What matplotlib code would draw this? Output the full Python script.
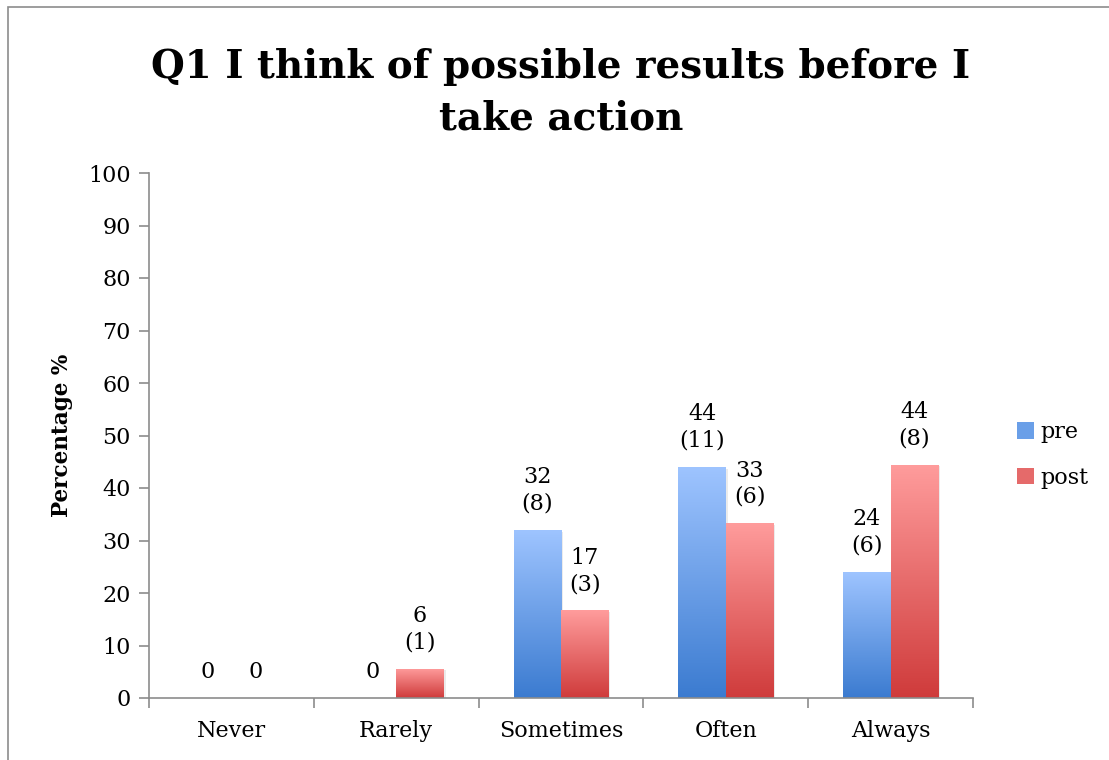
import numpy as np
import matplotlib
matplotlib.use("Agg")
import matplotlib.pyplot as plt
from matplotlib.colors import LinearSegmentedColormap
from matplotlib.patches import Rectangle, Patch

categories = ["Never", "Rarely", "Sometimes", "Often", "Always"]
pre_values = [0, 0, 32, 44, 24]
post_values = [0, 5.6, 16.7, 33.3, 44.4]
pre_labels = ["0", "0", "32\n(8)", "44\n(11)", "24\n(6)"]
post_labels = ["0", "6\n(1)", "17\n(3)", "33\n(6)", "44\n(8)"]
series_names = ["pre", "post"]
title_lines = ["Q1 I think of possible results before I", "take action"]

plt.rcParams["font.family"] = ["DejaVu Serif"]

W, H = 1109, 760
fig = plt.figure(figsize=(W / 100, H / 100), dpi=100)
ax = fig.add_axes([149 / W, 1 - 698 / H, (973 - 149) / W, (698 - 173) / H])

# outer chart border
fig.patches.append(Rectangle((8 / W, -0.01), 1.1, 1 - 7 / H + 0.01,
                             transform=fig.transFigure, fill=False,
                             edgecolor="#8c8c8c", lw=1.2))

blue = LinearSegmentedColormap.from_list("b", ["#3b7bd0", "#9ec4ff"])
red = LinearSegmentedColormap.from_list("r", ["#cf3b3b", "#ff9c9c"])
grad = np.linspace(0, 1, 256).reshape(-1, 1)

x = np.arange(len(categories))
bw = 0.288
for vals, labs, off, cmap in [(pre_values, pre_labels, -bw / 2, blue),
                              (post_values, post_labels, bw / 2, red)]:
    bars = ax.bar(x + off, vals, width=bw, color="none", edgecolor="none")
    for b, v, lab in zip(bars, vals, labs):
        if v > 0:
            bx = b.get_x()
            # soft shadow
            ax.add_patch(Rectangle((bx + 0.012, 0), bw, v - 0.3,
                                   facecolor="#000000", alpha=0.08,
                                   edgecolor="none", zorder=1))
            im = ax.imshow(grad, cmap=cmap, aspect="auto", origin="lower",
                           extent=[bx, bx + bw, 0, v], zorder=2)
            im.set_clip_path(b)
        ax.annotate(lab, (b.get_x() + bw / 2, v), xytext=(0, 11),
                    textcoords="offset points", ha="center", va="bottom",
                    fontsize=16, linespacing=1.25)

ax.set_xlim(-0.5, len(categories) - 0.5)
ax.set_ylim(0, 100)
ax.set_yticks(range(0, 101, 10))
ax.set_xticks(x)
ax.set_xticklabels(categories)
ax.set_xticks(np.arange(-0.5, len(categories), 1), minor=True)
ax.tick_params(axis="x", which="major", length=0, labelsize=16, pad=16)
ax.tick_params(axis="x", which="minor", length=7, color="#8c8c8c", width=1.2)
ax.tick_params(axis="y", length=7, color="#8c8c8c", width=1.2, labelsize=16,
               pad=6)
for s in ["top", "right"]:
    ax.spines[s].set_visible(False)
for s in ["left", "bottom"]:
    ax.spines[s].set_color("#8c8c8c")
    ax.spines[s].set_linewidth(1.2)
ax.set_ylabel("Percentage %", fontsize=15.5, fontweight="bold", labelpad=11)

fig.text(561 / W, 1 - 78 / H, title_lines[0], ha="center", va="baseline",
         fontsize=28, fontweight="bold")
fig.text(561 / W, 1 - 129 / H, title_lines[1], ha="center", va="baseline",
         fontsize=28, fontweight="bold")

handles = [Patch(facecolor="#6a9fe8", edgecolor="none"),
           Patch(facecolor="#e56a6a", edgecolor="none")]
fig.legend(handles, series_names, loc="center left",
           bbox_to_anchor=(997 / W, 1 - 455 / H), frameon=False,
           fontsize=16, handlelength=0.75, handleheight=0.75,
           handletextpad=0.3, labelspacing=1.05)

fig.savefig("out.png", dpi=100)
